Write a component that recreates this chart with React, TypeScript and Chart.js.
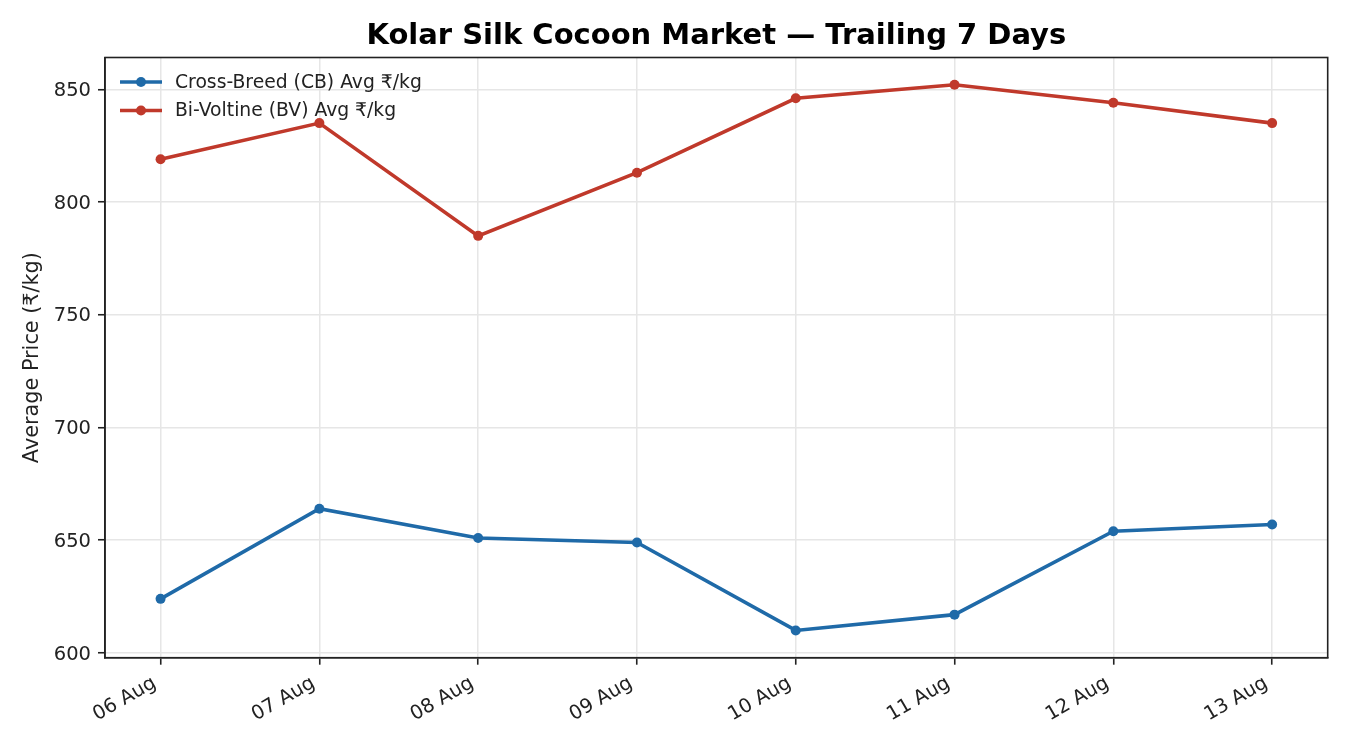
import { useEffect, useRef } from "react";
import { Chart, registerables } from "chart.js";

Chart.register(...registerables);

const FONT = "DejaVu Sans";

const days = ["06 Aug", "07 Aug", "08 Aug", "09 Aug", "10 Aug", "11 Aug", "12 Aug", "13 Aug"];
const crossBreed = [624, 664, 651, 649, 610, 617, 654, 657];
const biVoltine = [819, 835, 785, 813, 846, 852, 844, 835];
const yTicks = [600, 650, 700, 750, 800, 850];

const titleText = "Kolar Silk Cocoon Market — Trailing 7 Days";

// title centred over the plot area, legend inside it, full frame
const decorPlugin = {
  id: "decor",
  afterDraw(chart: any) {
    const { ctx, chartArea } = chart;
    ctx.save();
    ctx.strokeStyle = "#222";
    ctx.lineWidth = 1.6;
    ctx.strokeRect(chartArea.left, chartArea.top, chartArea.right - chartArea.left, chartArea.bottom - chartArea.top);

    ctx.fillStyle = "#000";
    ctx.font = `bold 29px "${FONT}"`;
    ctx.textAlign = "center";
    ctx.textBaseline = "middle";
    ctx.fillText(titleText, (chartArea.left + chartArea.right) / 2, 36);

    ctx.font = `18.75px "${FONT}"`;
    ctx.textAlign = "left";
    chart.data.datasets.forEach((ds: any, i: number) => {
      const y = 82 + i * 28.5;
      ctx.strokeStyle = ds.borderColor;
      ctx.lineWidth = ds.borderWidth;
      ctx.beginPath();
      ctx.moveTo(120, y);
      ctx.lineTo(162, y);
      ctx.stroke();
      ctx.fillStyle = ds.borderColor;
      ctx.beginPath();
      ctx.arc(141, y, 5, 0, Math.PI * 2);
      ctx.fill();
      ctx.fillStyle = "#222";
      ctx.fillText(ds.label, 175, y + 1);
    });
    ctx.restore();
  },
};

export default function App() {
  const chartRef = useRef<HTMLCanvasElement>(null);
  const chartInstance = useRef<Chart | null>(null);

  useEffect(() => {
    document.body.style.margin = "0";
    if (!chartRef.current) return;
    const ctx = chartRef.current.getContext("2d");
    if (!ctx) return;

    if (chartInstance.current) chartInstance.current.destroy();

    chartInstance.current = new Chart(ctx, {
      type: "line",
      data: {
        datasets: [
          {
            label: "Cross-Breed (CB) Avg ₹/kg",
            data: crossBreed.map((v, i) => ({ x: i, y: v })),
            borderColor: "#1f6aa8",
            backgroundColor: "#1f6aa8",
            borderWidth: 3.6,
            pointRadius: 5,
            pointBorderWidth: 0,
            tension: 0,
          },
          {
            label: "Bi-Voltine (BV) Avg ₹/kg",
            data: biVoltine.map((v, i) => ({ x: i, y: v })),
            borderColor: "#c0392b",
            backgroundColor: "#c0392b",
            borderWidth: 3.6,
            pointRadius: 5,
            pointBorderWidth: 0,
            tension: 0,
          },
        ],
      },
      options: {
        animation: false,
        responsive: true,
        maintainAspectRatio: false,
        layout: { padding: { left: 0, top: 57.5, right: 22.3, bottom: 0 } },
        plugins: {
          legend: { display: false },
          title: { display: false },
          tooltip: { enabled: false },
        },
        scales: {
          x: {
            type: "linear",
            min: -0.35,
            max: 7.35,
            afterBuildTicks: (scale: any) => {
              scale.ticks = days.map((_, i) => ({ value: i }));
            },
            afterFit: (scale: any) => {
              scale.height = 92.3;
            },
            grid: {
              color: "#e6e6e6",
              lineWidth: 1.5,
              tickColor: "#222",
              tickLength: 7,
              tickWidth: 1.6,
            },
            border: { color: "#222", width: 1.6 },
            ticks: {
              autoSkip: false,
              minRotation: 30,
              maxRotation: 30,
              padding: 7,
              labelOffset: -6,
              color: "#222",
              font: { family: FONT, size: 19.5 },
              callback: (value: any) => days[value] ?? "",
            },
          },
          y: {
            min: 597.9,
            max: 864.1,
            afterBuildTicks: (scale: any) => {
              scale.ticks = yTicks.map((v) => ({ value: v }));
            },
            afterFit: (scale: any) => {
              scale.width = 105;
            },
            grid: {
              color: "#e6e6e6",
              lineWidth: 1.5,
              tickColor: "#222",
              tickLength: 7,
              tickWidth: 1.6,
            },
            border: { color: "#222", width: 1.6 },
            ticks: {
              padding: 7,
              labelOffset: 1.5,
              color: "#222",
              font: { family: FONT, size: 19.5 },
            },
            title: {
              display: true,
              text: "Average Price (₹/kg)",
              color: "#222",
              font: { family: FONT, size: 20.8 },
              padding: { top: 20, bottom: 0 },
            },
          },
        },
      },
      plugins: [decorPlugin],
    } as any);

    return () => {
      if (chartInstance.current) {
        chartInstance.current.destroy();
        chartInstance.current = null;
      }
    };
  }, []);

  return (
    <div style={{ position: "relative", width: 1350, height: 750, background: "#fff" }}>
      <canvas ref={chartRef}></canvas>
    </div>
  );
}
